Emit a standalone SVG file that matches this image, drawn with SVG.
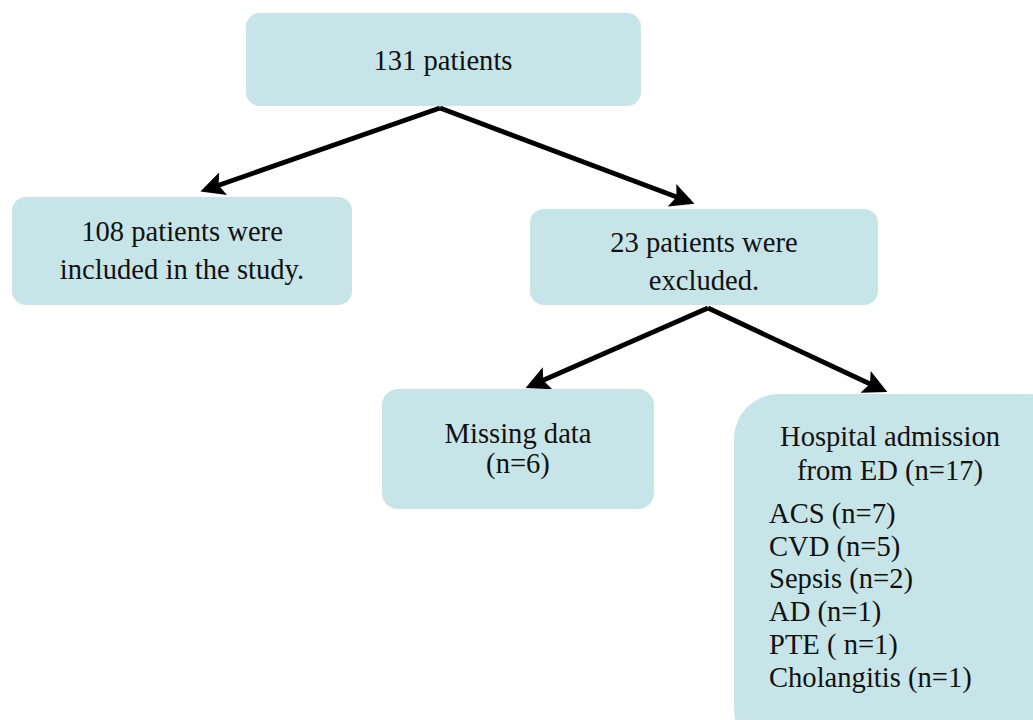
<svg xmlns="http://www.w3.org/2000/svg" width="1033" height="720" viewBox="0 0 1033 720">
<style>
.box{fill:#c7e5e8;}
.t{font-family:"Liberation Serif","Times New Roman",serif;font-size:28.6px;fill:#111;}
.c{text-anchor:middle;}
.ln{stroke:#000;stroke-width:4.8;fill:none;marker-end:url(#ah);}
</style>
<defs>
<marker id="ah" markerWidth="5" markerHeight="5" refX="4" refY="2.5" orient="auto" markerUnits="strokeWidth">
<path d="M0,0 L5,2.5 L0,5 L1,2.5 Z" fill="#000"/>
</marker>
</defs>
<rect width="1033" height="720" fill="#fff"/>
<g id="connectors">
<path class="ln" d="M440,108 L205,190"/>
<path class="ln" d="M440,108 L690,202"/>
<path class="ln" d="M708,308 L530,386"/>
<path class="ln" d="M708,308 L883,390"/>
</g>
<g id="n131">
<rect class="box" x="246" y="13" width="395" height="93" rx="14"/>
<text class="t c" x="443" y="70">131 patients</text>
</g>
<g id="included">
<rect class="box" x="12" y="197" width="340" height="108" rx="14"/>
<text class="t c" x="182" y="241">108 patients were</text>
<text class="t c" x="182" y="279">included in the study.</text>
</g>
<g id="excluded">
<rect class="box" x="530" y="209" width="348" height="96" rx="14"/>
<text class="t c" x="704" y="252">23 patients were</text>
<text class="t c" x="704" y="290">excluded.</text>
</g>
<g id="missing">
<rect class="box" x="382" y="389" width="272" height="120" rx="16"/>
<text class="t c" x="518" y="443">Missing data</text>
<text class="t c" x="518" y="473">(n=6)</text>
</g>
<g id="hospital">
<rect class="box" x="734" y="394" width="340" height="360" rx="45"/>
<text class="t c" x="890" y="446">Hospital admission</text>
<text class="t c" x="890" y="480">from ED (n=17)</text>
<text class="t" x="769" y="523">ACS (n=7)</text>
<text class="t" x="769" y="556">CVD (n=5)</text>
<text class="t" x="769" y="588">Sepsis (n=2)</text>
<text class="t" x="769" y="621">AD (n=1)</text>
<text class="t" x="769" y="654">PTE ( n=1)</text>
<text class="t" x="769" y="687">Cholangitis (n=1)</text>
</g>
</svg>
